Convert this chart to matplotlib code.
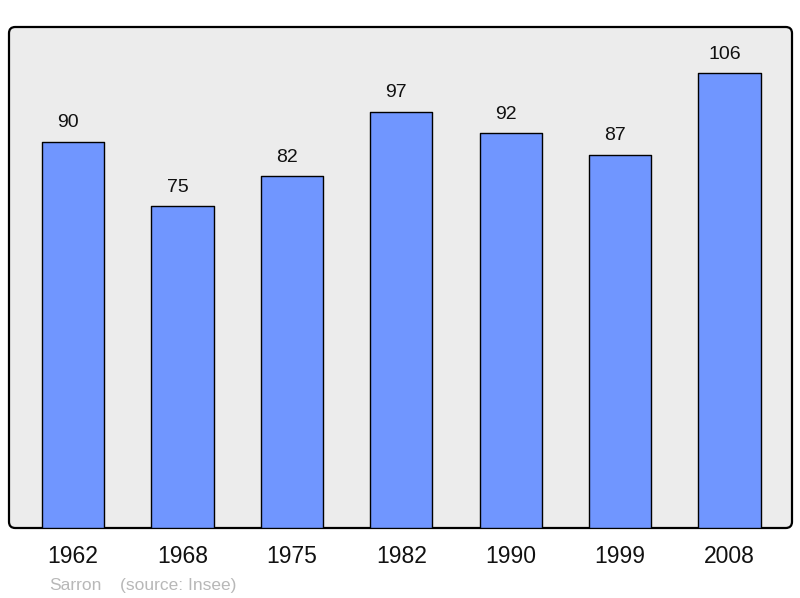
import matplotlib
matplotlib.use("Agg")
import matplotlib.pyplot as plt
from matplotlib.patches import FancyBboxPatch

years = ["1962", "1968", "1975", "1982", "1990", "1999", "2008"]
population = [90, 75, 82, 97, 92, 87, 106]
commune = "Sarron"
source = "(source: Insee)"

plt.rcParams['font.family'] = ['Liberation Sans', 'DejaVu Sans']

W, H = 800, 598
fig = plt.figure(figsize=(W / 100, H / 100), dpi=100)
fig.patch.set_facecolor('white')

left, right, top, bottom = 9, 792, 27, 528
ax = fig.add_axes([left / W, 1 - bottom / H, (right - left) / W, (bottom - top) / H])
ax.set_facecolor('none')

frame = FancyBboxPatch((0, 0), 1, 1,
                       boxstyle="round,pad=0,rounding_size=0.008",
                       mutation_aspect=(right - left) / (bottom - top),
                       transform=ax.transAxes, facecolor='#ececec',
                       edgecolor='black', linewidth=1.6, zorder=0, clip_on=False)
ax.add_patch(frame)

x = list(range(len(years)))
bars = ax.bar(x, population, width=0.57, color='#7096ff', edgecolor='black',
              linewidth=1.0, zorder=2)
for b in bars:
    b.set_joinstyle('round')

for xi, v in zip(x, population):
    ax.annotate(str(v), (xi, v), xytext=(-3.6, 10.5), textcoords='offset points',
                ha='center', va='baseline', fontsize=14, color='#111111', zorder=3)

ax.set_xlim(-0.585, 6.571)
ax.set_ylim(0, 116.8)
ax.set_xticks(x)
ax.set_xticklabels(years, fontsize=16.5, color='#111111')
ax.tick_params(axis='x', length=0, pad=12.5)
ax.set_yticks([])
for s in ax.spines.values():
    s.set_visible(False)

fig.text(49 / W, 1 - 585.5 / H, commune, fontsize=12.5, color='#b8b8b8', va='center', ha='left')
fig.text(120 / W, 1 - 585.5 / H, source, fontsize=12.5, color='#b8b8b8', va='center', ha='left')

fig.savefig('out.png', dpi=100)
